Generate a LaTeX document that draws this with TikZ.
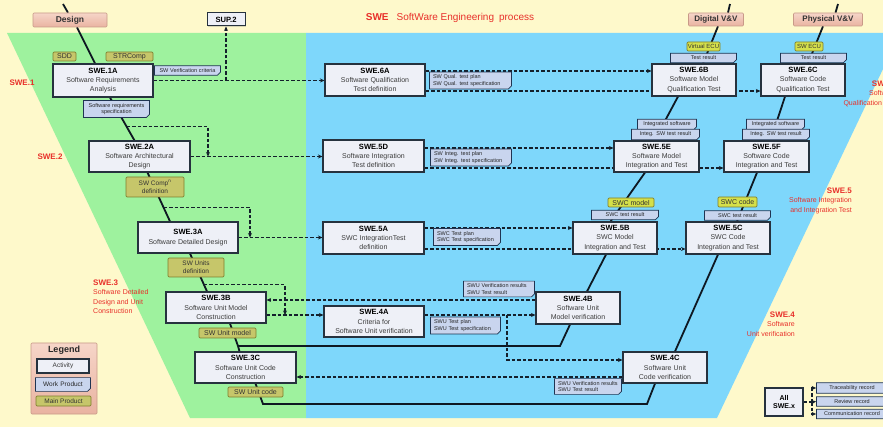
\documentclass[tikz,border=0pt]{standalone}
\usepackage{fontspec}
\setmainfont{Liberation Sans}
\usetikzlibrary{shapes.misc,shadows,calc,arrows.meta}
\pgfdeclarelayer{bg}
\pgfdeclarelayer{lines}
\pgfsetlayers{bg,lines,main}
\definecolor{bgyellow}{HTML}{FEF9CB}
\definecolor{vgreen}{HTML}{9EF29E}
\definecolor{vblue}{HTML}{7ED7FB}
\definecolor{actfill}{HTML}{EEF0F7}
\definecolor{actdraw}{HTML}{26323E}
\definecolor{wpfill}{HTML}{C9D5EE}
\definecolor{wpdraw}{HTML}{1F3452}
\definecolor{mpfill}{HTML}{C6C66A}
\definecolor{mpdraw}{HTML}{7F7F2E}
\definecolor{mpbright}{HTML}{D5E04A}
\definecolor{phasetop}{HTML}{F6D5C8}
\definecolor{phasebot}{HTML}{E9B3A1}
\definecolor{phasedraw}{HTML}{C89A88}
\definecolor{redlbl}{HTML}{E8302A}
\definecolor{lineblk}{HTML}{0E1822}
\definecolor{dashcol}{HTML}{14202C}
\definecolor{bodytxt}{HTML}{3C3C3C}
\newcommand\acttl[1]{{\fontsize{7.6}{9.3}\selectfont\bfseries\color{black}#1}}
\begin{document}
\begin{tikzpicture}[x=1pt,y=-1pt,
  act/.style={draw=actdraw, line width=1.1pt, fill=actfill, minimum height=32pt, inner sep=0pt, align=center,
    font=\fontsize{7}{9.3}\selectfont, text=bodytxt,
    drop shadow={shadow xshift=1pt, shadow yshift=-1pt, opacity=0.3}},
  wp/.style={chamfered rectangle, chamfered rectangle corners=south east, chamfered rectangle xsep=1.5pt,
    chamfered rectangle ysep=1.5pt, draw=wpdraw, line width=0.7pt, fill=wpfill, inner xsep=2pt, inner ysep=1.2pt,
    font=\fontsize{5.5}{6.3}\selectfont, text=black!85, align=center},
  mp/.style={draw=mpdraw, line width=0.7pt, fill=mpfill, rounded corners=1.2pt, inner sep=0pt, align=center,
    font=\fontsize{7}{8}\selectfont, text=black!80},
  mpb/.style={mp, fill=mpbright},
  phase/.style={draw=phasedraw, line width=0.6pt, top color=phasetop, bottom color=phasebot, rounded corners=1pt,
    inner sep=0pt, font=\fontsize{8.5}{10}\selectfont\bfseries, text=black!80},
  vline/.style={draw=lineblk, line width=1.8pt},
  dline/.style={draw=dashcol, line width=1.1pt, dash pattern=on 3.5pt off 2pt},
  arr/.style={-{Stealth[length=4.5pt,width=4pt]}},
  redl/.style={text=redlbl, font=\fontsize{7}{9.5}\selectfont, inner sep=0pt},
  redt/.style={text=redlbl, font=\fontsize{8}{9.5}\selectfont\bfseries, inner sep=0pt}]
\useasboundingbox (0,0) rectangle (883,427);
\begin{pgfonlayer}{bg}
\fill[bgyellow] (0,0) rectangle (883,427);
\fill[vgreen] (7,33) -- (306,33) -- (306,418) -- (190,418) -- cycle;
\fill[vblue] (306,33) -- (883,33) -- (883,69) -- (717,418) -- (306,418) -- cycle;
\end{pgfonlayer}

% top band
\node[text=redlbl, font=\fontsize{10}{12}\selectfont] (title) at (450,18) {\textbf{SWE}\hspace{8pt}SoftWare Engineering\hspace{5pt}process};
\node[phase, minimum width=74pt, minimum height=14pt] (design) at (70,20) {Design};
\node[draw=actdraw, line width=1pt, fill=actfill, minimum width=38pt, minimum height=13pt, inner sep=0pt,
  font=\fontsize{7.6}{9}\selectfont\bfseries, drop shadow={shadow xshift=1pt, shadow yshift=-1pt, opacity=0.3}] (sup2) at (226,19.5) {SUP.2};
\node[phase, minimum width=55pt, minimum height=13pt, font=\fontsize{8}{10}\selectfont\bfseries] (digital) at (716,19.5) {Digital V\&V};
\node[phase, minimum width=69pt, minimum height=13pt, font=\fontsize{8}{10}\selectfont\bfseries] (physical) at (828,19.5) {Physical V\&V};

% red labels
\node[redt] (l1) at (22,83) {SWE.1};
\node[redt] (l2) at (50,157) {SWE.2};
\node[redl, anchor=north west, align=left] (l3) at (93,279.5) {{\fontsize{8}{9.5}\selectfont\bfseries SWE.3}\\Software Detailed\\Design and Unit\\Construction};
\node[redl, anchor=north east, align=right] (l4) at (795,311.5) {{\fontsize{8}{9.5}\selectfont\bfseries SWE.4}\\Software\\Unit verification};
\node[redl, anchor=north east, align=right] (l5) at (852,187.5) {{\fontsize{8}{9.5}\selectfont\bfseries SWE.5}\\Software Integration\\and Integration Test};
\node[redl, anchor=north east, align=right] (l6) at (897,80.5) {{\fontsize{8}{9.5}\selectfont\bfseries SWE.6}\\Software\\Qualification Test};

% left branch
\node[mp, minimum width=23pt, minimum height=9pt] (sdd) at (64.5,56.5) {SDD};
\node[mp, minimum width=47pt, minimum height=9pt] (strcomp) at (129.5,56.5) {STRComp};
\node[act, minimum width=100pt, minimum height=33pt] (swe1a) at (103,80.5) {\acttl{SWE.1A}\\Software Requirements\\Analysis};
\node[wp, text width=59pt] (swverif) at (187.5,70.5) {SW Verification criteria};
\node[wp, text width=59pt] (swreqspec) at (116.5,109) {Software requirements\\specification};
\node[act, minimum width=101pt, minimum height=31pt] (swe2a) at (139.5,156.5) {\acttl{SWE.2A}\\Software Architectural\\Design};
\node[mp, minimum width=58pt, minimum height=20pt, font=\fontsize{6.5}{8}\selectfont] (swcomp) at (155,187) {SW Comp\textsuperscript{n}\\definition};
\node[act, minimum width=100pt, minimum height=31pt] (swe3a) at (188,237.5) {\acttl{SWE.3A}\\Software Detailed Design};
\node[mp, minimum width=56pt, minimum height=19pt, font=\fontsize{6.5}{8}\selectfont] (swunits) at (196,267.5) {SW Units\\definition};
\node[act, minimum width=100pt, minimum height=31pt] (swe3b) at (216,307.5) {\acttl{SWE.3B}\\Software Unit Model\\Construction};
\node[mp, minimum width=57pt, minimum height=10pt] (swunitmodel) at (227.5,333) {SW Unit model};
\node[act, minimum width=101pt, minimum height=31pt] (swe3c) at (245.5,367.5) {\acttl{SWE.3C}\\Software Unit Code\\Construction};
\node[mp, minimum width=55pt, minimum height=10pt] (swunitcode) at (255.5,392) {SW Unit code};

% middle column
\node[act, minimum width=100pt] (swe6a) at (375,80) {\acttl{SWE.6A}\\Software Qualification\\Test definition};
\node[wp, text width=75pt, align=left] (wp6a) at (470.5,80.5) {SW Qual. test plan\\SW Qual. test specification};
\node[act, minimum width=101pt] (swe5d) at (373.5,156) {\acttl{SWE.5D}\\Software Integration\\Test definition};
\node[wp, text width=74pt, align=left] (wp5d) at (471,157.5) {SW Integ. test plan\\SW Integ. test specification};
\node[act, minimum width=101pt] (swe5a) at (373.5,238) {\acttl{SWE.5A}\\SWC IntegrationTest\\definition};
\node[wp, text width=60pt, align=left] (wp5a) at (467,237) {SWC Test plan\\SWC Test specification};
\node[act, minimum width=100pt, minimum height=31pt] (swe4a) at (374,321.5) {\acttl{SWE.4A}\\Criteria for\\Software Unit verification};
\node[wp, text width=63pt, align=left] (wp4a) at (465.5,325.5) {SWU Test plan\\SWU Test specification};
\node[wp, text width=64pt, align=left] (wp4b) at (499,289) {SWU Verification results\\SWU Test result};
\node[act, minimum width=84pt] (swe4b) at (578,308) {\acttl{SWE.4B}\\Software Unit\\Model verification};
\node[wp, text width=60pt, align=left] (wp4c) at (588,386.5) {SWU Verification results\\SWU Test result};
\node[act, minimum width=84pt, minimum height=31pt] (swe4c) at (665,367.5) {\acttl{SWE.4C}\\Software Unit\\Code verification};

% right columns
\node[mpb, minimum width=33pt, minimum height=9pt, font=\fontsize{6}{7}\selectfont] (vecu) at (703.5,46.5) {Virtual ECU};
\node[wp, text width=59pt] (tr6b) at (703.5,58) {Test result};
\node[act, minimum width=84pt] (swe6b) at (694,80) {\acttl{SWE.6B}\\Software Model\\Qualification Test};
\node[mpb, minimum width=28pt, minimum height=9pt, font=\fontsize{6}{7}\selectfont] (swecu) at (809,46.5) {SW ECU};
\node[wp, text width=59pt] (tr6c) at (813.5,58) {Test result};
\node[act, minimum width=84pt] (swe6c) at (803,80) {\acttl{SWE.6C}\\Software Code\\Qualification Test};
\node[wp, text width=52pt] (is5e) at (667,124.5) {Integrated software};
\node[wp, text width=61pt] (it5e) at (665.5,134.5) {Integ. SW test result};
\node[act, minimum width=85pt, minimum height=31pt] (swe5e) at (656.5,156.5) {\acttl{SWE.5E}\\Software Model\\Integration and Test};
\node[wp, text width=51pt] (is5f) at (775.5,124.5) {Integrated software};
\node[wp, text width=60pt] (it5f) at (776,134.5) {Integ. SW test result};
\node[act, minimum width=85pt, minimum height=31pt] (swe5f) at (766.5,156.5) {\acttl{SWE.5F}\\Software Code\\Integration and Test};
\node[mpb, minimum width=46pt, minimum height=9pt] (swcmodel) at (631,202.5) {SWC model};
\node[wp, text width=60pt] (tr5b) at (625,215) {SWC test result};
\node[act, minimum width=84pt] (swe5b) at (615,238) {\acttl{SWE.5B}\\SWC Model\\Integration and Test};
\node[mpb, minimum width=39pt, minimum height=10pt] (swccode) at (737.5,202) {SWC code};
\node[wp, text width=59pt] (tr5c) at (737.5,215.5) {SWC test result};
\node[act, minimum width=84pt] (swe5c) at (728,238) {\acttl{SWE.5C}\\SWC Code\\Integration and Test};

% legend
\node[draw=phasedraw, line width=0.6pt, top color=phasetop, bottom color=phasebot, rounded corners=1pt,
  minimum width=66pt, minimum height=71pt, inner sep=0pt] (legend) at (64,378.5) {};
\node[font=\fontsize{9}{10}\selectfont\bfseries, text=black!85, inner sep=0pt] (legendt) at (64,350) {Legend};
\node[act, minimum width=52pt, minimum height=14pt, font=\fontsize{6.5}{7}\selectfont] (legact) at (63,366) {Activity};
\node[wp, text width=48pt, inner ysep=3pt, font=\fontsize{6.5}{7}\selectfont] (legwp) at (63,384.5) {Work Product};
\node[mp, minimum width=55pt, minimum height=10pt, font=\fontsize{6.5}{7}\selectfont] (legmp) at (63.5,401) {Main Product};

% all swe.x
\node[act, minimum width=38pt, minimum height=28pt, font=\fontsize{7}{8.5}\selectfont\bfseries, text=black] (allswe) at (784,402) {All\\SWE.x};
\node[wp, text width=64pt] (rec1) at (852,388) {Traceability record};
\node[wp, text width=64pt] (rec2) at (852,401.5) {Review record};
\node[wp, text width=64pt] (rec3) at (852,414) {Communication record};

\begin{pgfonlayer}{lines}
% V flow lines
\coordinate (d0) at (63,4);
\draw[vline] (d0) -- ([xshift=-2pt]design.north);
\draw[vline] ([xshift=7pt]design.south) -- ([xshift=-8pt]swe1a.north);
\coordinate (v1) at ([xshift=7pt]swe1a.south);
\coordinate (v2) at ([xshift=-5pt]swe2a.north);
\draw[vline] (v1) -- (v2);
\coordinate (v3) at ([xshift=8pt]swe2a.south);
\coordinate (v4) at ([xshift=-18pt]swe3a.north);
\draw[vline] (v3) -- (v4);
\coordinate (v5) at ([xshift=2pt]swe3a.south);
\coordinate (v6) at ([xshift=-9pt]swe3b.north);
\draw[vline] (v5) -- (v6);
\coordinate (j1) at (238,346);
\draw[vline] ([xshift=14pt]swe3b.south) -- (j1) -- ([xshift=-6pt]swe3c.north);
\coordinate (j2) at (263,404);
\coordinate (j3) at (647,404);
\draw[vline] ([xshift=10pt]swe3c.south) -- (j2) -- (j3) -- ([xshift=-10pt]swe4c.south);
\draw[vline] ([xshift=10pt]swe4c.north) -- ([xshift=-10pt]swe5c.south);
\draw[vline] ([xshift=9pt]swe5c.north) -- ([xshift=-9.5pt]swe5f.south);
\draw[vline] ([xshift=4pt]swe5f.north) -- ([xshift=-18pt]swe6c.south);
\draw[vline] ([xshift=5pt]swe6c.north) -- ([xshift=-5pt]physical.south);
\coordinate (p0) at (838,4);
\draw[vline] (p0) -- ([xshift=7.5pt]physical.north);
\coordinate (j4) at (560,346);
\draw[vline] (j1) -- (j4) -- ([xshift=-8pt]swe4b.south);
\draw[vline] ([xshift=9pt]swe4b.north) -- ([xshift=-9pt]swe5b.south);
\draw[vline] ([xshift=-4.5pt]swe5b.north) -- ([xshift=-11.5pt]swe5e.south);
\draw[vline] ([xshift=-2pt]swe5e.north) -- ([xshift=-16pt]swe6b.south);
\draw[vline] ([xshift=9pt]swe6b.north) -- ([xshift=2pt]digital.south);
\coordinate (g0) at (730,4);
\draw[vline] (g0) -- ([xshift=12pt]digital.north);

% dashed information flows
\begin{scope}[dline]
\draw[arr] (swe1a.east) -- (swe1a.east -| swe6a.west);
\draw[arr] (swe1a.east -| sup2.south) -- (sup2.south);
\draw[arr] (swe2a.east) -- (swe2a.east -| swe5d.west);
\draw[arr] (swe3a.east) -- (swe3a.east -| swe5a.west);
\coordinate (b1) at ($(v1)!0.68!(v2)$);
\coordinate (t1) at (208,0);
\draw[arr] (b1) -| (t1 |- swe2a.east);
\coordinate (b2) at ($(v3)!0.72!(v4)$);
\coordinate (t2) at (250,0);
\draw[arr] (b2) -| (t2 |- swe3a.east);
\coordinate (c3bu) at ([yshift=7.5pt]swe3b.east);
\coordinate (c3bd) at ([yshift=-7.5pt]swe3b.east);
\coordinate (b3) at ($(v5)!0.82!(v6)$);
\coordinate (t3) at (285,0);
\draw[arr] (b3) -| (t3 |- c3bd);
\draw[arr] (c3bu -| swe4b.west) -- (c3bu);
\draw[arr] (c3bd) -- (c3bd -| swe4a.west);
\draw[arr] (c3bd -| swe4a.east) -- (c3bd -| swe4b.west);
\coordinate (t4) at (507,0);
\coordinate (c4cu) at ([yshift=7.5pt]swe4c.west);
\coordinate (c4cd) at ([yshift=-9.5pt]swe4c.west);
\draw[arr] (t4 |- c3bd) |- (c4cu);
\draw[arr] (c4cd) -- (c4cd -| swe3c.east);
\coordinate (c6au) at ([yshift=9pt]swe6a.east);
\coordinate (c6ad) at ([yshift=-11pt]swe6a.east);
\draw[arr] (c6au) -- (c6au -| swe6b.west);
\draw[arr] (c6ad) -- (c6ad -| swe6c.west);
\coordinate (c5du) at ([yshift=8pt]swe5d.east);
\coordinate (c5dd) at ([yshift=-12pt]swe5d.east);
\draw[arr] (c5du) -- (c5du -| swe5e.west);
\draw[arr] (c5dd) -- (c5dd -| swe5f.west);
\coordinate (c5au) at ([yshift=10pt]swe5a.east);
\coordinate (c5ad) at ([yshift=-11pt]swe5a.east);
\draw[arr] (c5au) -- (c5au -| swe5b.west);
\draw[arr] (c5ad) -- (c5ad -| swe5c.west);
\coordinate (ax) at (812,402);
\draw (allswe.east) -- (ax);
\draw[arr] (ax) |- (rec1.west);
\draw[arr] (ax) -- (rec2.west);
\draw[arr] (ax) |- (rec3.west);
\end{scope}
\end{pgfonlayer}
\end{tikzpicture}
\end{document}
